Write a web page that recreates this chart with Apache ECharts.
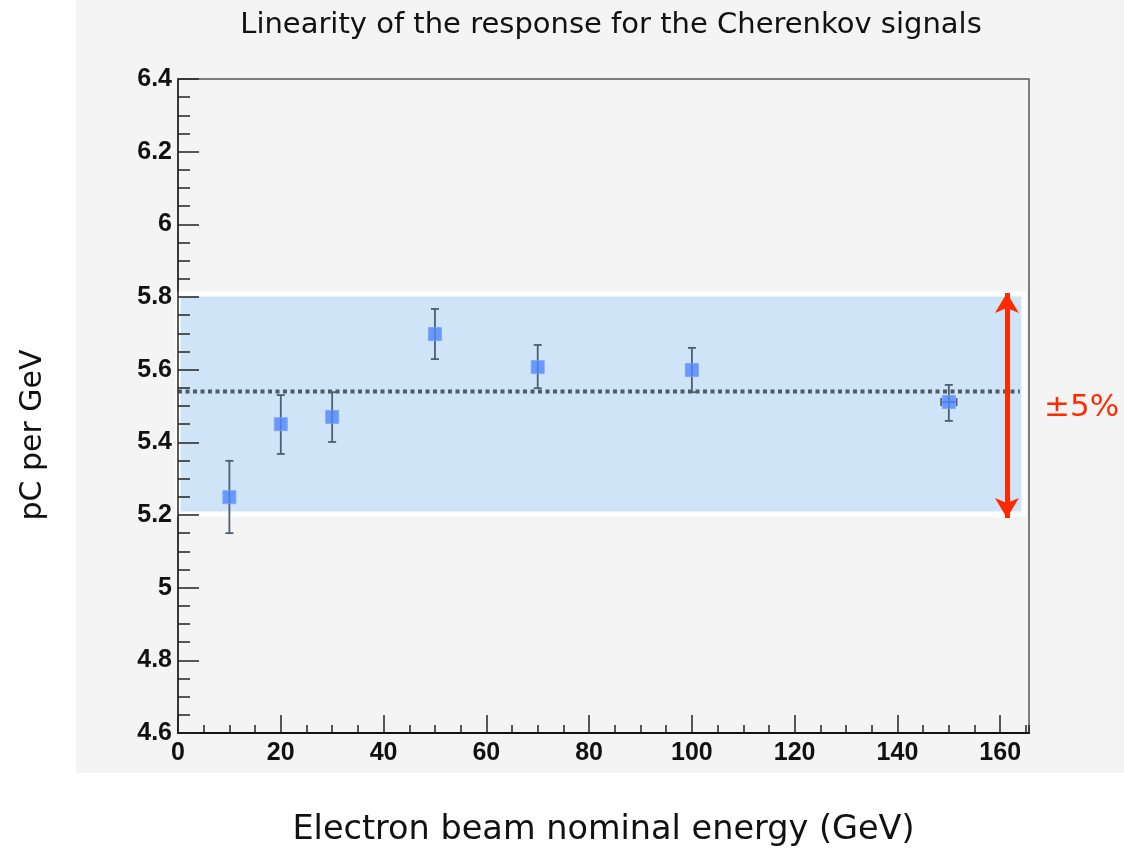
<!DOCTYPE html>
<html><head><meta charset="utf-8">
<script src="https://cdn.jsdelivr.net/npm/echarts@6/dist/echarts.min.js"></script>
<style>html,body{margin:0;padding:0;background:#fff}#c{width:1124px;height:853px}</style>
</head><body><div id="c"></div>
<script>
// ---- data ----
const energies   = [10, 20, 30, 50, 70, 100, 150];
const response   = [5.249, 5.450, 5.470, 5.698, 5.607, 5.599, 5.511];
const errLow     = [0.099, 0.082, 0.069, 0.069, 0.058, 0.061, 0.052];
const errHigh    = [0.100, 0.080, 0.068, 0.069, 0.061, 0.061, 0.047];
const energyErr  = [0, 0, 0, 0, 0, 0, 1.5];
const meanLine   = [[0, 5.54], [163.8, 5.54]];
const bandY      = [5.203, 5.808];
const bandX      = [0, 164.6];
const arrowX     = 161.3;
const arrowY     = [5.192, 5.811];
const xRange     = [0, 165.6];
const yRange     = [4.6, 6.4];
const titleText  = 'Linearity of the response for the Cherenkov signals';
const xName      = 'Electron beam nominal energy (GeV)';
const yName      = 'pC per GeV';
const bandLabel  = '±5%';

const chart = echarts.init(document.getElementById('c'), null, {renderer: 'canvas'});
const labelFont = {fontFamily: 'Liberation Sans', fontWeight: 'bold', fontSize: 25, color: '#111'};
const hand = 'DejaVu Sans';

const errData = energies.map((e, i) => [e, response[i], errLow[i], errHigh[i], energyErr[i]]);

chart.setOption({
  animation: false,
  backgroundColor: '#ffffff',
  title: {
    text: titleText, left: 606, top: 6, textAlign: 'center',
    textStyle: {fontFamily: hand, fontWeight: 'normal', fontSize: 29, color: '#111'}
  },
  graphic: {elements: [
    {type: 'rect', z: -100, silent: true, shape: {x: 76, y: 0, width: 1048, height: 773}, style: {fill: '#f4f4f4'}},
    {type: 'text', z: 100, x: 1044, y: 408,
      style: {text: bandLabel, fontFamily: hand, fontSize: 31, fill: '#ff2a00', verticalAlign: 'middle', align: 'left'}},
    {type: 'text', z: 100, x: 33, y: 435, rotation: Math.PI / 2,
      style: {text: yName, fontFamily: hand, fontSize: 30, fill: '#111', verticalAlign: 'middle', align: 'center'}}
  ]},
  grid: {left: 178, top: 79, right: 95, bottom: 120, show: true, borderColor: '#555', borderWidth: 1.5, backgroundColor: 'transparent'},
  xAxis: [{
    type: 'value', min: xRange[0], max: xRange[1], interval: 20, position: 'bottom', z: 10,
    axisLine: {show: true, lineStyle: {color: '#111', width: 2}},
    axisTick: {show: true, inside: true, length: 18, lineStyle: {color: '#222', width: 1.5}},
    axisLabel: Object.assign({margin: 8, showMaxLabel: false}, labelFont),
    splitLine: {show: false},
    name: xName, nameLocation: 'middle', nameGap: 80,
    nameTextStyle: {fontFamily: hand, fontSize: 33.5, color: '#111'}
  }, {
    type: 'value', min: xRange[0], max: xRange[1], interval: 5, position: 'bottom', z: 10,
    axisLine: {show: false},
    axisTick: {show: true, inside: true, length: 8, lineStyle: {color: '#222', width: 1.5}},
    axisLabel: {show: false}, splitLine: {show: false}
  }],
  yAxis: {
    type: 'value', min: yRange[0], max: yRange[1], interval: 0.2, z: 10,
    axisLine: {show: true, lineStyle: {color: '#222', width: 1.5}},
    axisTick: {show: true, inside: true, length: 21, lineStyle: {color: '#222', width: 1.5}},
    minorTick: {show: true, splitNumber: 4, length: 12, lineStyle: {color: '#222', width: 1.5}},
    axisLabel: Object.assign({margin: 6}, labelFont),
    splitLine: {show: false}
  },
  series: [{
    type: 'line', z: 1, data: meanLine, symbol: 'none', silent: true,
    lineStyle: {color: '#505a66', width: 4, type: [4, 3.5]},
    markArea: {silent: true, z: 0,
      itemStyle: {color: '#cfe4f7', borderColor: '#ffffff', borderWidth: 5},
      data: [[{coord: [bandX[0], bandY[0]]}, {coord: [bandX[1], bandY[1]]}]]
    }
  }, {
    type: 'custom', z: 3, data: errData, encode: {x: 0, y: 1},
    renderItem: function (params, api) {
      const x = api.value(0), y = api.value(1), lo = api.value(2), hi = api.value(3), xe = api.value(4);
      const t = api.coord([x, y + hi]), b = api.coord([x, y - lo]);
      const st = {stroke: '#4f5e72', lineWidth: 1.8};
      const c = 4;
      const ch = [
        {type: 'line', shape: {x1: t[0], y1: t[1], x2: b[0], y2: b[1]}, style: st},
        {type: 'line', shape: {x1: t[0] - c, y1: t[1], x2: t[0] + c, y2: t[1]}, style: st},
        {type: 'line', shape: {x1: b[0] - c, y1: b[1], x2: b[0] + c, y2: b[1]}, style: st}
      ];
      if (xe > 0) {
        const l = api.coord([x - xe, y]), r = api.coord([x + xe, y]);
        ch.push({type: 'line', shape: {x1: l[0], y1: l[1], x2: r[0], y2: r[1]}, style: st});
        ch.push({type: 'line', shape: {x1: l[0], y1: l[1] - c, x2: l[0], y2: l[1] + c}, style: st});
        ch.push({type: 'line', shape: {x1: r[0], y1: r[1] - c, x2: r[0], y2: r[1] + c}, style: st});
      }
      return {type: 'group', children: ch};
    }
  }, {
    type: 'scatter', z: 4, symbol: 'rect', symbolSize: 13,
    data: energies.map((e, i) => [e, response[i]]),
    itemStyle: {color: '#5086ff', borderColor: '#78a0ff', borderWidth: 1}
  }, {
    type: 'line', z: 5, data: [], silent: true,
    markLine: {silent: true, symbol: ['arrow', 'arrow'], symbolSize: [18, 20],
      label: {show: false},
      lineStyle: {color: '#ff2a00', width: 5, type: 'solid'},
      data: [[{coord: [arrowX, arrowY[0]]}, {coord: [arrowX, arrowY[1]]}]]
    }
  }]
});
</script></body></html>
